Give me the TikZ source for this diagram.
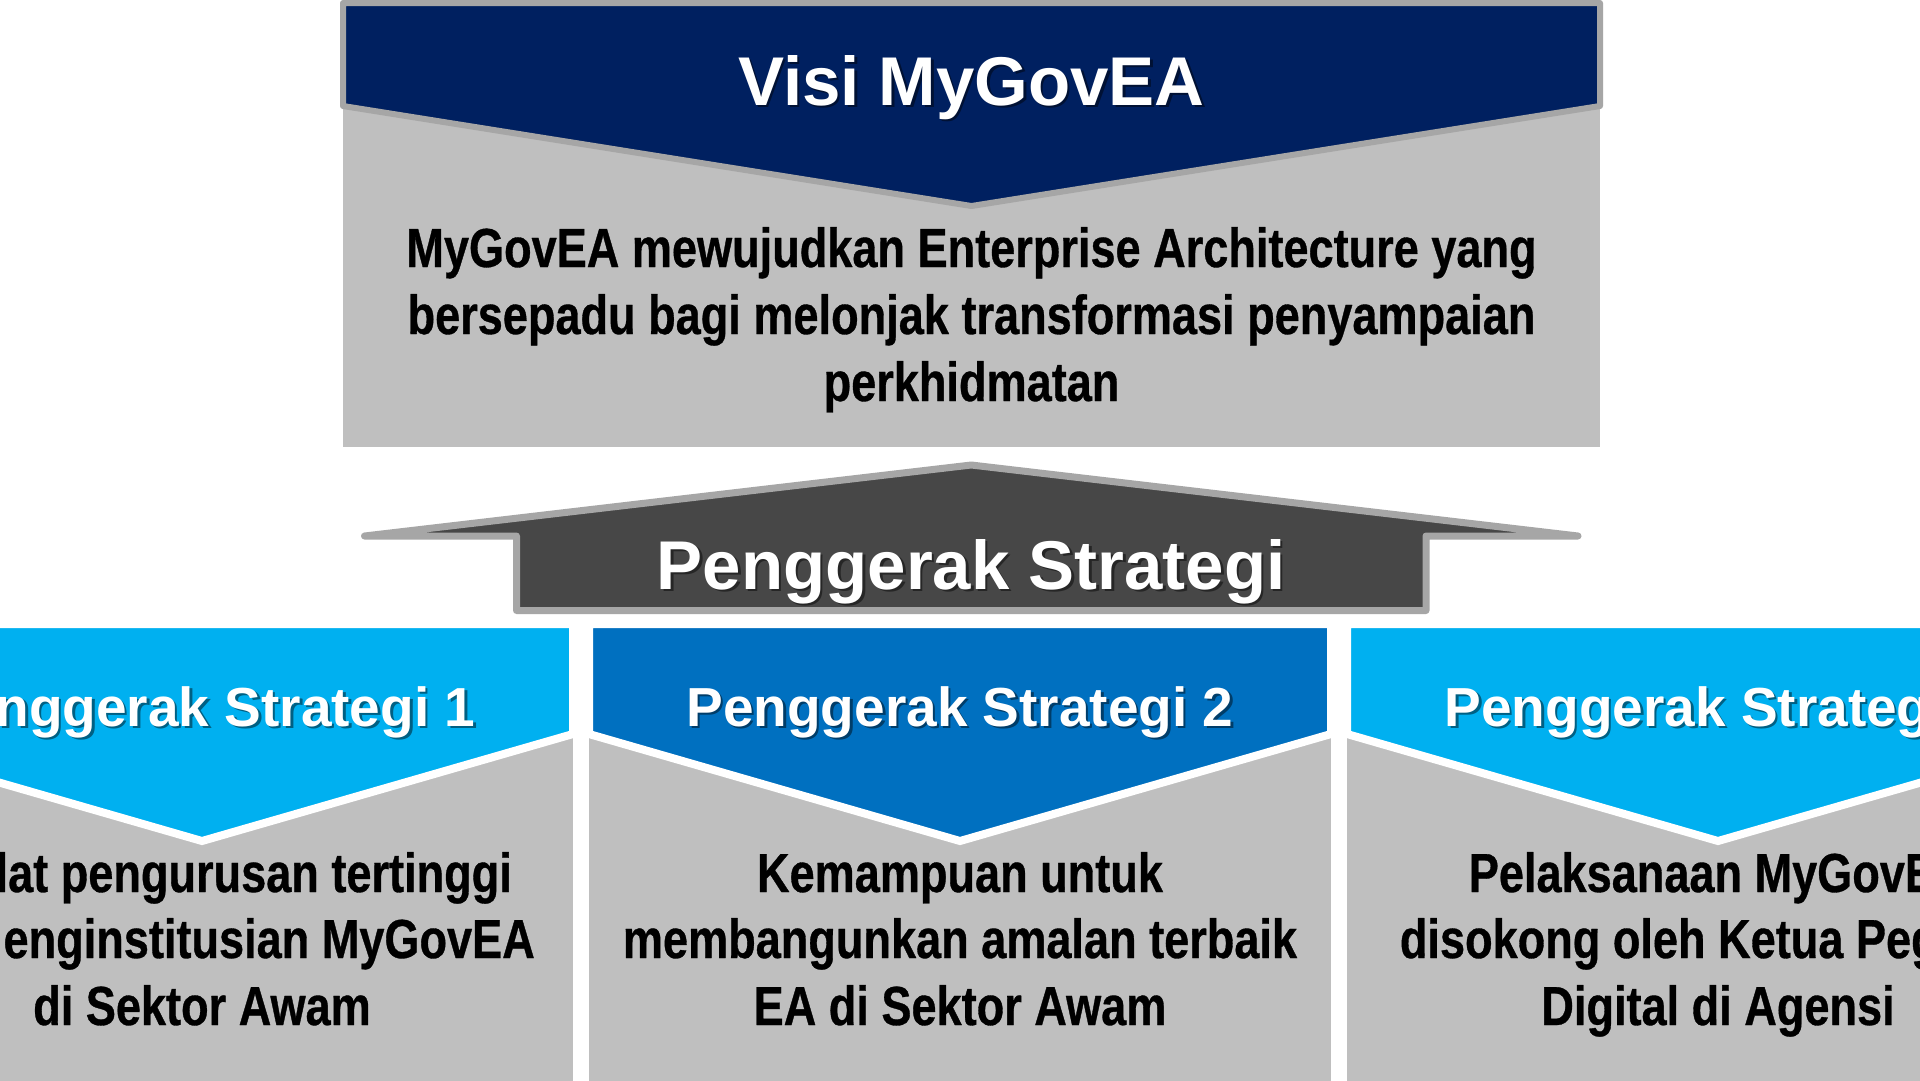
\documentclass[tikz,border=0pt]{standalone}
\usepackage{fontspec}
\setmainfont{Liberation Sans}
\newfontfamily\narrowfont{Liberation Sans}[FakeStretch=0.82, FakeBold=0.6]
\definecolor{navy}{HTML}{002060}
\definecolor{cyanhd}{HTML}{00B0F0}
\definecolor{bluehd}{HTML}{0070C0}
\definecolor{bodygray}{HTML}{BFBFBF}
\definecolor{edgegray}{HTML}{A6A6A6}
\definecolor{darkarrow}{HTML}{474747}
\tikzset{
  bigtxt/.style={text=white, font=\fontsize{69}{80}\bfseries\selectfont, anchor=base, inner sep=0pt},
  bigshadow/.style={bigtxt, text=black, opacity=0.45},
  hdtxt/.style={text=white, font=\fontsize{55}{66}\bfseries\selectfont, anchor=base, inner sep=0pt},
  hdshadow/.style={hdtxt, text=black, opacity=0.45},
  bodytxt/.style={text=black, font=\narrowfont\fontsize{55}{66}\bfseries\selectfont, anchor=base, inner sep=0pt},
  bodybox/.style={fill=bodygray, draw=none},
  headshape/.style={draw=white, line width=8pt, line join=miter},
}
\begin{document}
\begin{tikzpicture}[x=1pt,y=-1pt]
\useasboundingbox (0,0) rectangle (1920,1080);
\clip (0,0) rectangle (1920,1080);
\fill[white] (0,0) rectangle (1920,1080);

% ---------- top vision box ----------
\fill[bodybox] (343,100) rectangle (1600,447);
\draw[fill=navy, draw=edgegray, line width=6pt, line join=round]
  (343,3) -- (1600,3) -- (1600,106) -- (971.5,206) -- (343,106) -- cycle;
\node[bigshadow] (visis) at (974,107.5) {Visi MyGovEA};
\node[bigtxt] (visi) at (971.5,105) {Visi MyGovEA};
\node[bodytxt] (v1) at (971.5,267) {MyGovEA mewujudkan Enterprise Architecture yang};
\node[bodytxt] (v2) at (971.5,334) {bersepadu bagi melonjak transformasi penyampaian};
\node[bodytxt] (v3) at (971.5,401) {perkhidmatan};

% ---------- middle arrow ----------
\draw[fill=darkarrow, draw=edgegray, line width=7pt, line join=round]
  (971.25,465) -- (1578,536) -- (1426,536) -- (1426,610.5) -- (516.5,610.5)
  -- (516.5,536) -- (364.5,536) -- cycle;
\node[bigshadow] (pgs) at (973.75,591.5) {Penggerak Strategi};
\node[bigtxt] (pg) at (971.25,589) {Penggerak Strategi};

% ---------- column 1 ----------
\fill[bodybox] (-169,700) rectangle (573,1090);
\draw[headshape, fill=cyanhd] (-169,624) -- (573,624) -- (573,734) -- (202,841) -- (-169,734) -- cycle;
\node[hdshadow, anchor=base east] (h1s) at (478.1,728.5) {nggerak Strategi 1};
\node[hdtxt, anchor=base east] (h1) at (475.6,726) {nggerak Strategi 1};
\node[bodytxt, anchor=base east] (a1) at (512,892) {lat pengurusan tertinggi};
\node[bodytxt, anchor=base east] (a2) at (535,958) {enginstitusian MyGovEA};
\node[bodytxt] (a3) at (202,1025) {di Sektor Awam};

% ---------- column 2 ----------
\fill[bodybox] (589,700) rectangle (1331,1090);
\draw[headshape, fill=bluehd] (589,624) -- (1331,624) -- (1331,734) -- (960,841) -- (589,734) -- cycle;
\node[hdshadow] (h2s) at (962.5,728.5) {Penggerak Strategi 2};
\node[hdtxt] (h2) at (960,726) {Penggerak Strategi 2};
\node[bodytxt] (b1) at (960,892) {Kemampuan untuk};
\node[bodytxt] (b2) at (960,958) {membangunkan amalan terbaik};
\node[bodytxt] (b3) at (960,1025) {EA di Sektor Awam};

% ---------- column 3 ----------
\fill[bodybox] (1347,700) rectangle (2089,1090);
\draw[headshape, fill=cyanhd] (1347,624) -- (2089,624) -- (2089,734) -- (1718,841) -- (1347,734) -- cycle;
\node[hdshadow, anchor=base west] (h3s) at (1446.9,728.5) {Penggerak Strateg};
\node[hdtxt, anchor=base west] (h3) at (1444.4,726) {Penggerak Strateg};
\node[bodytxt, anchor=base west] (c1) at (1468.6,892) {Pelaksanaan MyGovE};
\node[bodytxt, anchor=base west] (c2) at (1399.7,958) {disokong oleh Ketua Peg};
\node[bodytxt] (c3) at (1718,1025) {Digital di Agensi};
\end{tikzpicture}
\end{document}
